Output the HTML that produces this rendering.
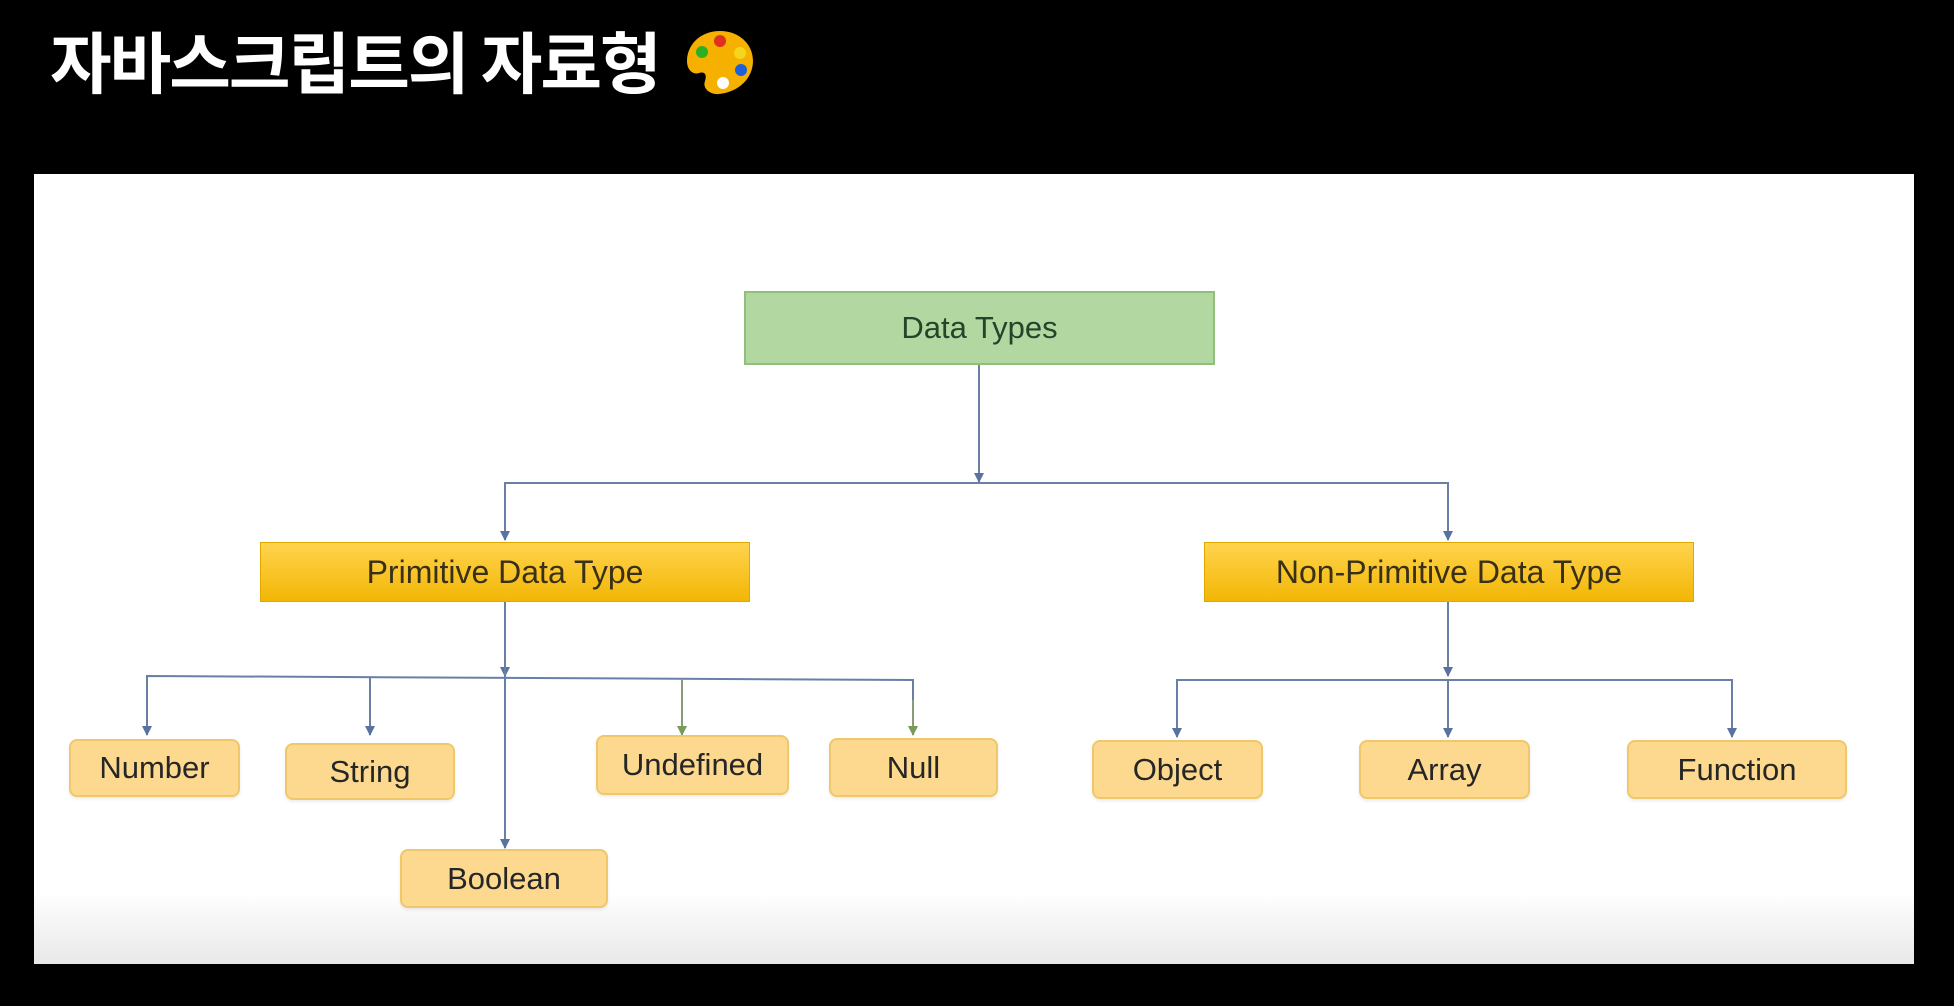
<!DOCTYPE html>
<html><head><meta charset="utf-8"><style>
html,body{margin:0;padding:0;background:#000;width:1954px;height:1006px;overflow:hidden;position:relative;font-family:"Liberation Sans","Noto Sans CJK KR",sans-serif}
.title{position:absolute;left:50px;top:18px;color:#fff;font-weight:bold;font-size:67px;font-family:"Noto Sans CJK KR","NanumGothic",sans-serif;letter-spacing:-2px;line-height:84px;white-space:nowrap}
.panel{position:absolute;left:34px;top:174px;width:1880px;height:790px;background:linear-gradient(to bottom,#fff 0,#fff 91%,#e8e8e8 100%)}
.b{position:absolute;box-sizing:border-box;display:flex;align-items:center;justify-content:center;color:#262626;font-size:31px}
.s{background:#fcd98e;border:2px solid #f0c76a;border-radius:8px;box-shadow:0 2px 3px rgba(0,0,0,.08)}
.y{background:linear-gradient(to bottom,#ffd34d,#f2b705);border:1px solid #e0a800;font-size:32px;color:#3a3018}
.g{background:#b3d7a1;border:2px solid #8fbf7a;font-size:31px;color:#25442a}
</style></head><body>
<div class="title">자바스크립트의 자료형</div>
<svg style="position:absolute;left:684px;top:28px" width="72" height="68" viewBox="0 0 72 68">
<path d="M36 3C16 3 3 17 3 33c0 10 7 14 12 12 6-2 8 2 6 8-3 8 6 14 14 13 20-2 34-16 34-33C69 16 55 3 36 3z" fill="#f5b000"/>
<circle cx="36" cy="13" r="6" fill="#e0301e"/><circle cx="18" cy="24" r="6" fill="#2bb024"/>
<circle cx="56" cy="25" r="6" fill="#f7d51d"/><circle cx="57" cy="42" r="6" fill="#1f5fd8"/>
<circle cx="39" cy="55" r="6" fill="#fff"/></svg>
<div class="panel"></div>
<svg style="position:absolute;left:0;top:0" width="1954" height="1006">
<defs><marker id="a" markerWidth="10" markerHeight="10" refX="9" refY="5" orient="auto" markerUnits="userSpaceOnUse"><path d="M0 0L10 5L0 10z" fill="#5a72a0"/></marker>
<marker id="ag" markerWidth="10" markerHeight="10" refX="9" refY="5" orient="auto" markerUnits="userSpaceOnUse"><path d="M0 0L10 5L0 10z" fill="#7a9a5a"/></marker></defs>
<g stroke="#6a7fa6" stroke-width="2" fill="none">
<line x1="979" y1="365" x2="979" y2="482" marker-end="url(#a)"/>
<polyline points="505,540 505,483 1448,483 1448,540"/>
<line x1="505" y1="483" x2="505" y2="540" marker-end="url(#a)"/>
<line x1="1448" y1="483" x2="1448" y2="540" marker-end="url(#a)"/>
<line x1="505" y1="602" x2="505" y2="676" marker-end="url(#a)"/>
<line x1="505" y1="602" x2="505" y2="848" marker-end="url(#a)"/>
<polyline points="147,735 147,676 913,680 913,735"/>
<line x1="147" y1="700" x2="147" y2="735" marker-end="url(#a)"/>
<line x1="370" y1="677" x2="370" y2="735" marker-end="url(#a)"/>
<line x1="682" y1="679" x2="682" y2="735" stroke="#8a9a7a" marker-end="url(#ag)"/>
<line x1="913" y1="700" x2="913" y2="735" stroke="#8a9a7a" marker-end="url(#ag)"/>
<line x1="1448" y1="602" x2="1448" y2="676" marker-end="url(#a)"/>
<polyline points="1177,737 1177,680 1732,680 1732,737"/>
<line x1="1177" y1="700" x2="1177" y2="737" marker-end="url(#a)"/>
<line x1="1448" y1="680" x2="1448" y2="737" marker-end="url(#a)"/>
<line x1="1732" y1="700" x2="1732" y2="737" marker-end="url(#a)"/>
</g></svg>
<div class="b g" style="left:744px;top:291px;width:471px;height:74px">Data Types</div>
<div class="b y" style="left:260px;top:542px;width:490px;height:60px">Primitive Data Type</div>
<div class="b y" style="left:1204px;top:542px;width:490px;height:60px">Non-Primitive Data Type</div>
<div class="b s" style="left:69px;top:739px;width:171px;height:58px">Number</div>
<div class="b s" style="left:285px;top:743px;width:170px;height:57px">String</div>
<div class="b s" style="left:596px;top:735px;width:193px;height:60px">Undefined</div>
<div class="b s" style="left:829px;top:738px;width:169px;height:59px">Null</div>
<div class="b s" style="left:400px;top:849px;width:208px;height:59px">Boolean</div>
<div class="b s" style="left:1092px;top:740px;width:171px;height:59px">Object</div>
<div class="b s" style="left:1359px;top:740px;width:171px;height:59px">Array</div>
<div class="b s" style="left:1627px;top:740px;width:220px;height:59px">Function</div>
</body></html>
